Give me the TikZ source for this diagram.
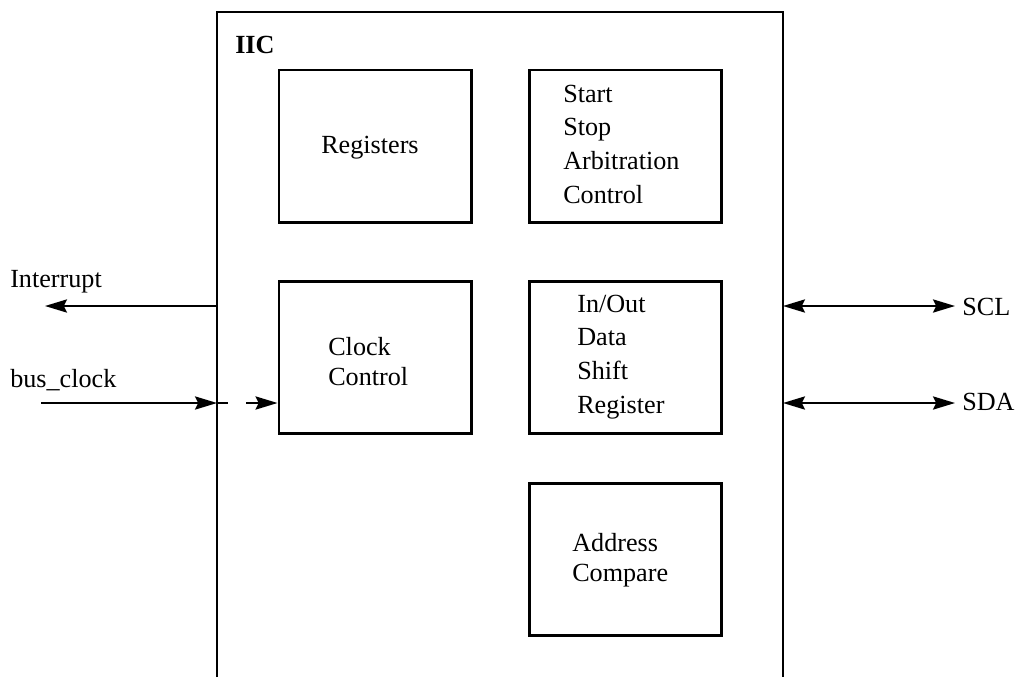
\documentclass[tikz,border=0pt]{standalone}
\usepackage{fontspec}
\setmainfont{Liberation Serif}
\usetikzlibrary{arrows.meta}
\usetikzlibrary{positioning}

\begin{document}
\begin{tikzpicture}[x=0.025cm,y=-0.025cm,
  blk/.style={draw,line width=2.1pt,minimum width=4.8cm,minimum height=3.8cm,inner sep=0pt},
  lbl/.style={font=\fontsize{18.6}{23.9}\selectfont,inner sep=0pt,align=left,anchor=base west},
  twoline/.style={lbl,font=\fontsize{18.6}{21.3}\selectfont},
  sig/.style={line width=1.4pt,-{Stealth[length=0.55cm,width=0.33cm,inset=0.08cm]}},
  bisig/.style={line width=1.4pt,{Stealth[length=0.55cm,width=0.33cm,inset=0.08cm]}-{Stealth[length=0.55cm,width=0.33cm,inset=0.08cm]}}]
\useasboundingbox (0,0) rectangle (1023,677);
\draw[line width=1.4pt] (217,677) -- (217,12) -- (783,12) -- (783,677);
\node[lbl,font=\fontsize{18.6}{23.9}\selectfont\bfseries] (iic) at (235,53) {IIC};

\node[blk] (reg) at (375,146) {};
\node[blk] (sac) at (625.5,146) {};
\node[blk] (clk) at (375,357.5) {};
\node[blk] (ioshift) at (625.5,357.5) {};
\node[blk] (addr) at (625.5,559.5) {};

\node[lbl] (regtxt) at (321,153) {Registers};
\node[lbl] (sactxt) at (563,203) {Start\\Stop\\Arbitration\\Control};
\node[twoline] (clktxt) at (328,385) {Clock\\Control};
\node[lbl] (iotxt) at (577,413) {In/Out\\Data\\Shift\\Register};
\node[twoline] (addrtxt) at (572,581) {Address\\Compare};

\node[lbl] (intlbl) at (10,287) {Interrupt};
\node[lbl] (buslbl) at (10,387) {bus\_clock};
\node[lbl,inner xsep=0.175cm] (scl) at (955,315) {SCL};
\node[lbl,inner xsep=0.175cm] (sda) at (955,410) {SDA};

\coordinate (intEdge) at (217,306);
\coordinate (intEnd) at (45,306);
\coordinate (busIn) at (41,403);
\coordinate (busEdge) at (217,403);
\coordinate (sclEdge) at (783,306);
\coordinate (sdaEdge) at (783,403);

\draw[sig] (intEdge) -- (intEnd);
\draw[sig] (busIn) -- (busEdge);
\draw[sig,dash pattern=on 0.275cm off 0.45cm on 2cm off 0.1cm] (busEdge) -- (busEdge -| clk.west);
\draw[bisig] (sclEdge) -- (sclEdge -| scl.west);
\draw[bisig] (sdaEdge) -- (sdaEdge -| sda.west);

\end{tikzpicture}
\end{document}
